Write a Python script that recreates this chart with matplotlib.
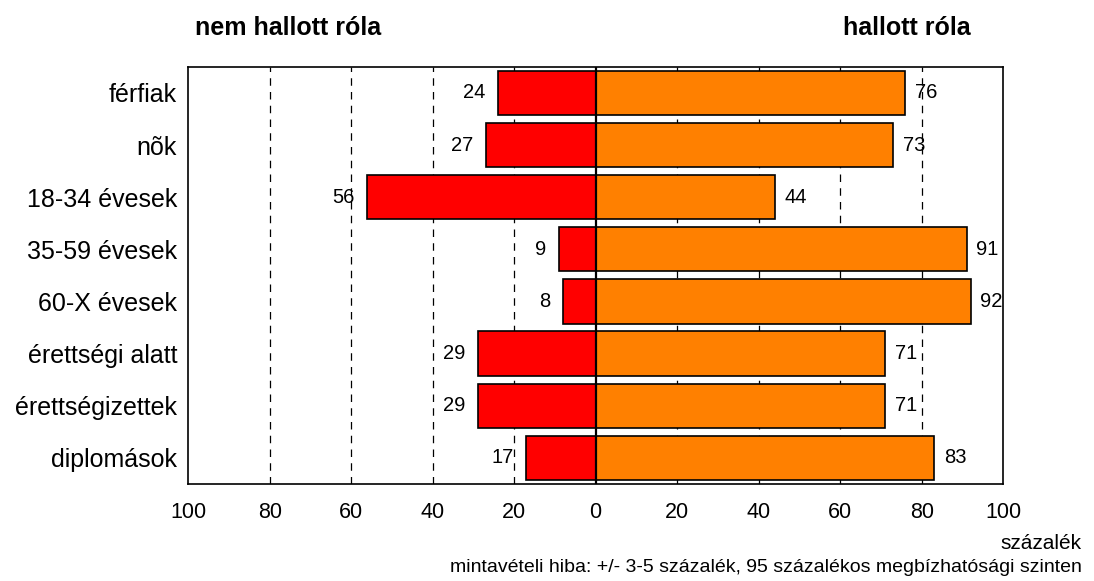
import matplotlib
matplotlib.use("Agg")
import matplotlib.pyplot as plt
from matplotlib import font_manager

names = {f.name for f in font_manager.fontManager.ttflist}
fam = "Liberation Sans Narrow" if "Liberation Sans Narrow" in names else "Liberation Sans"
plt.rcParams['font.family'] = [fam, 'DejaVu Sans']

categories = ["férfiak", "nõk", "18-34 évesek", "35-59 évesek", "60-X évesek",
              "érettségi alatt", "érettségizettek", "diplomások"]
nem_hallott = [24, 27, 56, 9, 8, 29, 29, 17]
hallott = [76, 73, 44, 91, 92, 71, 71, 83]
tick_values = [-100, -80, -60, -40, -20, 0, 20, 40, 60, 80, 100]
tick_labels = ["100", "80", "60", "40", "20", "0", "20", "40", "60", "80", "100"]

fig = plt.figure(figsize=(10.94, 5.81), dpi=100)
ax = fig.add_axes([0.172, 0.167, 0.745, 0.718])

y = list(range(len(categories)))
for v in [-80, -60, -40, -20, 20, 40, 60, 80]:
    ax.axvline(v, color="black", lw=0.9, ls=(0, (6, 5)), zorder=0)

ax.barh(y, [-v for v in nem_hallott], height=0.85, color="#ff0000", edgecolor="black", lw=1.2, zorder=2)
ax.barh(y, hallott, height=0.85, color="#ff8000", edgecolor="black", lw=1.2, zorder=2)
ax.axvline(0, color="black", lw=1.6, zorder=3)

for i, (a, b) in enumerate(zip(nem_hallott, hallott)):
    ax.annotate(str(a), (-a, i), xytext=(-9, 0), textcoords="offset points",
                ha="right", va="center", fontsize=14.5, zorder=4)
    ax.annotate(str(b), (b, i), xytext=(7, 0), textcoords="offset points",
                ha="left", va="center", fontsize=14.5, zorder=4)

ax.set_xlim(-100, 100)
ax.set_ylim(len(categories) - 0.5, -0.5)
ax.set_yticks(y)
ax.set_yticklabels(categories, fontsize=18)
ax.set_xticks(tick_values)
ax.set_xticklabels(tick_labels, fontsize=15.5)
ax.tick_params(length=0)
ax.tick_params(axis="x", pad=13)
ax.tick_params(axis="y", pad=8)
for s in ax.spines.values():
    s.set_linewidth(1.2)

fig.text(0.263, 0.952, "nem hallott róla", fontsize=18, fontweight="bold", ha="center", va="center")
fig.text(0.829, 0.952, "hallott róla", fontsize=18, fontweight="bold", ha="center", va="center")
fig.text(0.989, 0.065, "százalék", fontsize=15, ha="right", va="center")
fig.text(0.989, 0.024, "mintavételi hiba: +/- 3-5 százalék, 95 százalékos megbízhatósági szinten",
         fontsize=14, ha="right", va="center")

fig.savefig("out.png", dpi=100)
